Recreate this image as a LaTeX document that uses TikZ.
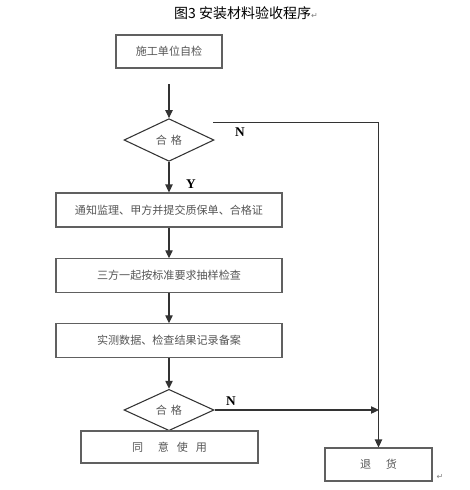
\documentclass[tikz,border=0pt]{standalone}
\usepackage{fontspec}
\setmainfont{Liberation Serif}
\newfontfamily\cjk{Noto Sans CJK SC}
\newfontfamily\symf{DejaVu Sans}
\usetikzlibrary{shapes.geometric,arrows.meta}
\definecolor{txtgray}{HTML}{555555}
\definecolor{boxgray}{HTML}{606060}
\definecolor{linegray}{HTML}{333333}
\begin{document}
\begin{tikzpicture}[x=0.75pt,y=-0.75pt,
  stepbox/.style={draw=boxgray,line width=0.8pt,rectangle,inner sep=0pt,
    font=\cjk\fontsize{8.3pt}{10pt}\selectfont,text=txtgray},
  decbox/.style={draw=linegray,line width=0.8pt,diamond,inner sep=0pt,
    font=\cjk\fontsize{8.3pt}{10pt}\selectfont,text=txtgray,
    minimum width=67.5pt,minimum height=32pt},
  flow/.style={draw=linegray,line width=0.9pt,-{Triangle[length=6pt,width=5.5pt]}},
  yn/.style={font=\bfseries\fontsize{10pt}{12pt}\selectfont,text=black},
  mark/.style={}]
\useasboundingbox (0,0) rectangle (469,490);
\node (title) at (246,13) {\cjk\fontsize{10.5pt}{12pt}\selectfont 图3 安装材料验收程序\textcolor{gray}{\symf\fontsize{6pt}{7pt}\selectfont ↵}};
\node[stepbox,minimum width=79.5pt,minimum height=24.75pt] (b1) at (169,51.5) {施工单位自检};
\coordinate (a1) at (169,84);
\node[decbox] (d1) at (169,140) {合\hspace{3pt}格};
\node[stepbox,minimum width=169.5pt,minimum height=25.5pt] (b2) at (169,210) {通知监理、甲方并提交质保单、合格证};
\node[stepbox,minimum width=169.5pt,minimum height=25pt] (b3) at (169,275.5) {三方一起按标准要求抽样检查};
\node[stepbox,minimum width=169.5pt,minimum height=25pt] (b4) at (169,340.5) {实测数据、检查结果记录备案};
\node[decbox,minimum height=31pt] (d2) at (169,410) {合\hspace{3pt}格};
\node[stepbox,minimum width=132.75pt,minimum height=24pt] (b5) at (169.5,447) {同\hspace{11pt}意\hspace{6pt}使\hspace{6pt}用};
\node[stepbox,minimum width=80.25pt,minimum height=24.75pt] (b6) at (378.5,464.5) {退\hspace{11pt}货};
\node[text=gray,font=\symf\fontsize{6pt}{7pt}\selectfont] (m2) at (440,477) {↵};
\coordinate (n1) at (213,122.5);
\coordinate (j2) at (379,410);
\draw[flow] (a1) -- (d1.north);
\draw[flow] (d1.south) -- (b2.north);
\draw[flow] (b2.south) -- (b3.north);
\draw[flow] (b3.south) -- (b4.north);
\draw[flow] (b4.south) -- (d2.north);
\draw[flow] (n1) -| (b6.north);
\draw[flow] (d2.east) -- (j2);
\node[yn] (yl) at (191,184) {Y};
\node[yn] (nl1) at (240,132) {N};
\node[yn] (nl2) at (231,401) {N};
\end{tikzpicture}
\end{document}
